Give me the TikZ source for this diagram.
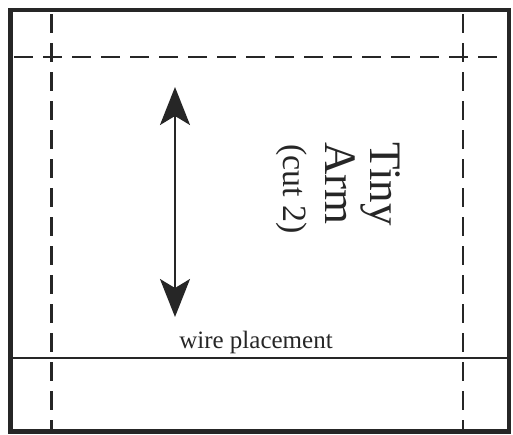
\documentclass[tikz,border=0pt]{standalone}
\usepackage{fontspec}
\setmainfont{Liberation Serif}
\usetikzlibrary{arrows.meta}

\begin{document}
\begin{tikzpicture}[x=1pt, y=-1pt, color={black!85},
  edge/.style = {line width=4.5pt},
  fold/.style = {line width=2.2pt, dash pattern=on 19pt off 10pt, dash phase=-2pt},
  wire/.style = {line width=2.5pt},
  grain/.style = {line width=2pt, {Stealth[length=38pt, width=30pt, inset=9pt]}-{Stealth[length=38pt, width=30pt, inset=9pt]}},
  label/.style = {font=\fontsize{45}{45}\selectfont, inner sep=0pt, rotate=-90, anchor=base west}]
\useasboundingbox (0,0) rectangle (513,434);
\draw[edge] (10.5,10) rectangle (509,431.5);
\draw[fold] (51.5,12) -- (51.5,430);
\draw[fold] (463,12) -- (463,430);
\draw[fold] (12,57) -- (507,57);
\draw[wire] (12,358) -- (507,358);
\coordinate (up) at (175,87);
\coordinate (down) at (175,317);
\draw[grain] (up) -- (down);
\node[label] (tiny) at (370,142) {Tiny};
\node[label] (arm) at (325,142) {Arm};
\node[label, font=\fontsize{34}{34}\selectfont] (cut) at (283,144) {(cut 2)};
\node[font=\fontsize{25}{25}\selectfont, anchor=base, inner sep=0pt] (place) at (256,348) {wire placement};
\end{tikzpicture}
\end{document}
